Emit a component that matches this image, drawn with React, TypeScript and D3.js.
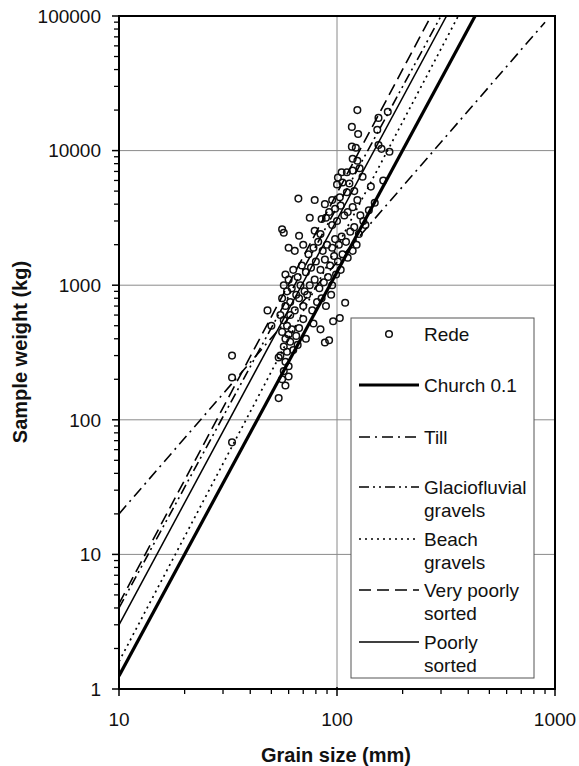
import React from "react";
import * as d3 from "d3";

const W = 579;
const H = 766;

// Rede samples: [grain size mm, sample weight kg]
const redeSamples: [number, number][] = [
  [124, 20000], [117, 15000], [125, 13300], [155, 17500], [171, 19400], [153, 14300],
  [117, 10700], [122, 10500], [155, 11000], [160, 10300], [174, 9800], [118, 8700],
  [124, 8400], [127, 7400], [105, 6900], [111, 6900], [118, 7100], [101, 6300],
  [131, 6400], [100, 5600], [106, 5800], [114, 5700], [143, 5400], [66.5, 4400],
  [79, 4300], [88, 4000], [95, 4300], [103, 4500], [111, 4900], [120, 5000],
  [149, 4100], [75, 3170], [85, 3100], [89, 3170], [56, 2600], [57, 2450],
  [67, 2330], [79, 2540], [84, 2400], [163, 6000], [140, 3600], [135, 2800],
  [60, 1900], [64, 1800], [70, 2000], [74, 1700], [78, 1900], [82, 2100],
  [86, 1800], [90, 2000], [95, 1900], [98, 2200], [102, 2000], [105, 2300],
  [110, 2100], [115, 2500], [120, 2700], [126, 2400], [132, 3000], [108, 3300],
  [100, 3000], [95, 2800], [92, 3500], [98, 3700], [104, 3900], [112, 3500],
  [118, 3800], [124, 4300], [128, 3300],
  [58, 1200], [60, 1100], [63, 1300], [66, 1150], [69, 1400], [72, 1250],
  [76, 1350], [80, 1500], [84, 1300], [88, 1550], [93, 1400], [97, 1650],
  [101, 1500], [106, 1700], [112, 1600], [118, 1800], [123, 2000],
  [57, 1000], [59, 900], [62, 950], [65, 850], [68, 1000], [71, 900],
  [75, 1000], [79, 1100], [83, 950], [87, 1050], [91, 1150], [95, 1000],
  [99, 1200], [104, 1300],
  [56, 800], [58, 700], [61, 750], [64, 650], [67, 800], [70, 700],
  [73, 850], [77, 650], [81, 750], [85, 800], [89, 700], [94, 850],
  [109, 740], [103, 570], [92, 390], [88, 375], [96, 540], [84, 470], [78, 520],
  [55, 600], [57, 550], [59, 500], [61, 600], [56, 450], [58, 400],
  [60, 430], [62, 470], [57, 350], [59, 320], [61, 380], [55, 300],
  [58, 270], [60, 250], [57, 230], [56, 200], [58, 180], [60, 210],
  [54, 290], [54, 145], [63, 330], [65, 420], [67, 480], [70, 560],
  [72, 400], [66, 360], [48, 650], [50, 500],
  [33, 300], [33, 206], [33, 68],
];

// Guideline endpoints: [grain size mm, sample weight kg]
const church01: [number, number][] = [[10, 1.25], [430, 100000]];
const till: [number, number][] = [[10, 20], [900, 90000]];
const glaciofluvial: [number, number][] = [[10, 4], [300, 100000]];
const beachGravels: [number, number][] = [[10, 1.6], [360, 100000]];
const veryPoorlySorted: [number, number][] = [[10, 4.3], [270, 100000]];
const poorlySorted: [number, number][] = [[10, 3], [318, 100000]];

const xTickValues = [10, 100, 1000];
const yTickValues = [1, 10, 100, 1000, 10000, 100000];

const left = 119, right = 555, top = 16, bottom = 689;

const x = d3.scaleLog().domain([10, 1000]).range([left, right]);
const y = d3.scaleLog().domain([1, 100000]).range([bottom, top]);

const lineGen = d3
  .line<[number, number]>()
  .x((d) => x(d[0]))
  .y((d) => y(d[1]));

const FONT = "Liberation Sans, Arial, Helvetica, sans-serif";

const series = [
  { name: ["Church 0.1"], data: church01, width: 3.2, dash: "" },
  { name: ["Till"], data: till, width: 1.6, dash: "11,5,2,5" },
  { name: ["Glaciofluvial", "gravels"], data: glaciofluvial, width: 1.6, dash: "10,4,2,4,2,4" },
  { name: ["Beach", "gravels"], data: beachGravels, width: 1.7, dash: "2,4" },
  { name: ["Very poorly", "sorted"], data: veryPoorlySorted, width: 1.6, dash: "12,6" },
  { name: ["Poorly", "sorted"], data: poorlySorted, width: 1.5, dash: "" },
];

const legendRows = [385, 437, 487, 539, 590, 642];

export default function App() {
  const minorX: number[] = [];
  for (let dec = 10; dec < 1000; dec *= 10) for (let k = 2; k <= 9; k++) minorX.push(dec * k);
  const minorY: number[] = [];
  for (let dec = 1; dec < 100000; dec *= 10) for (let k = 2; k <= 9; k++) minorY.push(dec * k);

  return (
    <svg
      width={W}
      height={H}
      style={{ position: "absolute", left: 0, top: 0, background: "#fff" }}
      fontFamily={FONT}
    >
      <defs>
        <clipPath id="plotClip">
          <rect x={left} y={top} width={right - left} height={bottom - top} />
        </clipPath>
      </defs>
      <rect x={0} y={0} width={W} height={H} fill="#fff" />
      {/* gridlines */}
      {xTickValues.map((v) => (
        <line key={"gx" + v} x1={x(v)} x2={x(v)} y1={top} y2={bottom} stroke="#8a8a8a" strokeWidth={1} />
      ))}
      {yTickValues.map((v) => (
        <line key={"gy" + v} x1={left} x2={right} y1={y(v)} y2={y(v)} stroke="#8a8a8a" strokeWidth={1} />
      ))}
      {/* points and guide lines */}
      <g clipPath="url(#plotClip)">
        {redeSamples.map((d, i) => (
          <circle key={i} cx={x(d[0])} cy={y(d[1])} r={3.3} fill="none" stroke="#111" strokeWidth={1.5} />
        ))}
        {series.map((s, i) => (
          <path
            key={i}
            d={lineGen(s.data) || ""}
            fill="none"
            stroke="#000"
            strokeWidth={s.width}
            strokeDasharray={s.dash || undefined}
          />
        ))}
      </g>
      {/* legend */}
      <rect x={351} y={318} width={183} height={360} fill="#fff" stroke="#555" strokeWidth={1} />
      <circle cx={389} cy={334} r={3.3} fill="none" stroke="#111" strokeWidth={1.5} />
      <text x={424} y={334} dy="0.35em" fontSize={19} fill="#111">Rede</text>
      {series.map((s, i) => (
        <g key={"lg" + i}>
          <line
            x1={359}
            x2={419}
            y1={legendRows[i]}
            y2={legendRows[i]}
            stroke="#000"
            strokeWidth={s.width}
            strokeDasharray={s.dash || undefined}
          />
          {s.name.map((t, j) => (
            <text key={j} x={424} y={legendRows[i] + j * 23} dy="0.35em" fontSize={19} fill="#111">
              {t}
            </text>
          ))}
        </g>
      ))}
      {/* plot frame */}
      <rect x={left} y={top} width={right - left} height={bottom - top} fill="none" stroke="#000" strokeWidth={2} />
      {/* y ticks */}
      {yTickValues.map((v) => (
        <g key={"yt" + v}>
          <line x1={left - 7} x2={left} y1={y(v)} y2={y(v)} stroke="#000" strokeWidth={1.5} />
          <text x={101} y={y(v)} dy="0.36em" textAnchor="end" fontSize={19} fill="#111">
            {v}
          </text>
        </g>
      ))}
      {minorY.map((v) => (
        <line key={"ym" + v} x1={left - 5} x2={left} y1={y(v)} y2={y(v)} stroke="#000" strokeWidth={1.3} />
      ))}
      {/* x ticks */}
      {xTickValues.map((v) => (
        <g key={"xt" + v}>
          <line x1={x(v)} x2={x(v)} y1={bottom - 2} y2={bottom + 7} stroke="#000" strokeWidth={1.5} />
          <text x={x(v)} y={726} textAnchor="middle" fontSize={19} fill="#111">
            {v}
          </text>
        </g>
      ))}
      {minorX.map((v) => (
        <line key={"xm" + v} x1={x(v)} x2={x(v)} y1={bottom} y2={bottom + 5} stroke="#000" strokeWidth={1.3} />
      ))}
      {/* axis titles */}
      <text x={336} y={762} textAnchor="middle" fontSize={20} fontWeight="bold" fill="#111">
        Grain size (mm)
      </text>
      <text
        transform={`translate(27, 352) rotate(-90)`}
        textAnchor="middle"
        fontSize={20}
        fontWeight="bold"
        fill="#111"
      >
        Sample weight (kg)
      </text>
    </svg>
  );
}
